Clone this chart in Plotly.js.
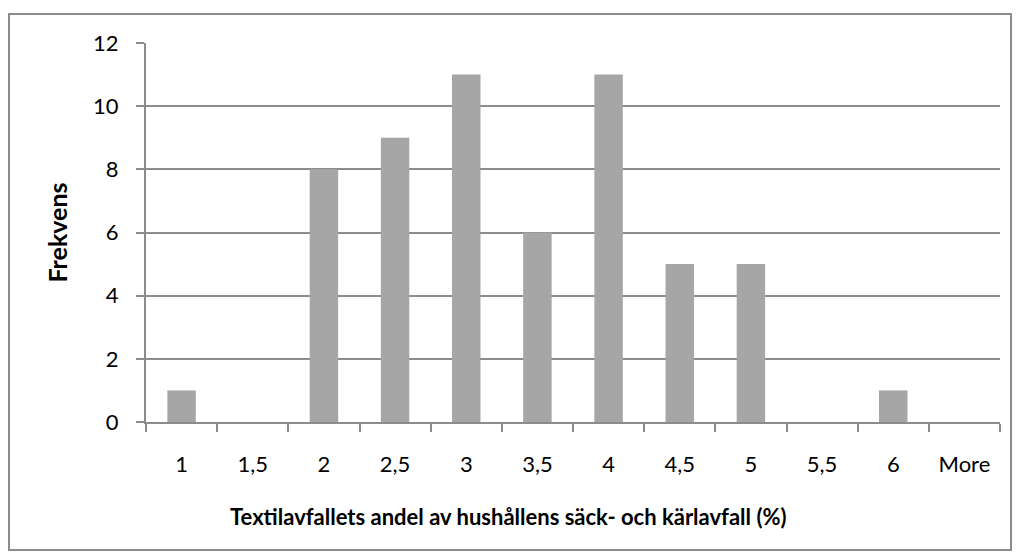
<!DOCTYPE html>
<html>
<head>
<meta charset="utf-8">
<script src="https://cdn.plot.ly/plotly-3.0.1.min.js"></script>
<style>
html,body{margin:0;padding:0;background:#fff;}
#wrap{position:relative;width:1016px;height:559px;}
#chart{width:1016px;height:559px;}
#frame{position:absolute;left:8px;top:13px;width:1000px;height:534px;border:2px solid #8c8c8c;pointer-events:none;}
</style>
</head>
<body>
<div id="wrap"><div id="chart"></div><div id="frame"></div></div>
<script>
var categories = ["1","1,5","2","2,5","3","3,5","4","4,5","5","5,5","6","More"];
var frequencies = [1,0,8,9,11,6,11,5,5,0,1,0];
var yTicks = [0,2,4,6,8,10,12];
var xTitle = "Textilavfallets andel av hushållens säck- och kärlavfall (%)";
var yTitle = "Frekvens";

var font = "Lato, 'Open Sans', sans-serif";
var trace = {
  type: "bar",
  x: categories,
  y: frequencies,
  marker: {color: "#a6a6a6", line: {width: 0}},
  hoverinfo: "x+y"
};
var layout = {
  width: 1016, height: 559,
  margin: {l: 146, r: 16, t: 43, b: 137},
  paper_bgcolor: "#ffffff",
  plot_bgcolor: "#ffffff",
  showlegend: false,
  bargap: 0.6,
  font: {family: font, color: "#000000", size: 22},
  xaxis: {
    type: "category",
    tickson: "boundaries",
    ticks: "outside", ticklen: 8, tickwidth: 2, tickcolor: "#8c8c8c",
    showline: true, linecolor: "#8c8c8c", linewidth: 2,
    showgrid: false, zeroline: false,
    tickfont: {family: font, size: 22, color: "#000"},
    ticklabelstandoff: 22,
    automargin: false
  },
  yaxis: {
    range: [0, 12],
    tickvals: yTicks,
    ticks: "outside", ticklen: 8, tickwidth: 2, tickcolor: "#8c8c8c",
    showline: true, linecolor: "#8c8c8c", linewidth: 2,
    showgrid: true, gridcolor: "#8c8c8c", gridwidth: 2,
    zeroline: false,
    tickfont: {family: font, size: 22, color: "#000"},
    ticklabelstandoff: 13,
    title: {text: yTitle, font: {family: font, size: 25, color: "#000", weight: "bold"}, standoff: 18},
    automargin: false
  },
  annotations: [{
    text: xTitle, showarrow: false,
    xref: "paper", yref: "paper", x: 0.424, y: -0.25,
    xanchor: "center", yanchor: "middle",
    font: {family: font, size: 22, color: "#000", weight: "bold"}
  }]
};
Plotly.newPlot("chart", [trace], layout, {displayModeBar: false, staticPlot: true});
</script>
</body>
</html>
